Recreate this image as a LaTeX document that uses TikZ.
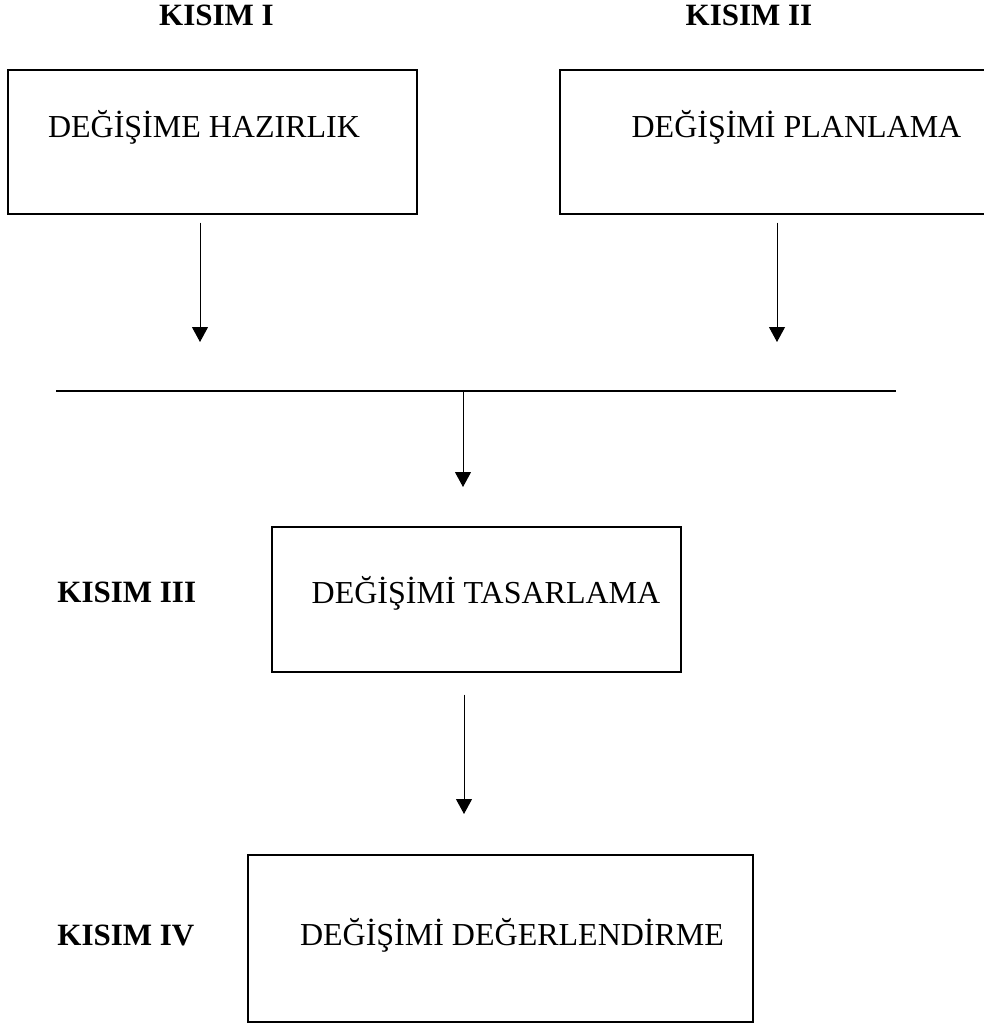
\documentclass[tikz,border=0pt]{standalone}
\usepackage{fontspec}
\setmainfont{Liberation Serif}
\usetikzlibrary{arrows.meta}
\tikzset{%
  box/.style={draw, line width=0.7pt, inner sep=0pt}, % the four part boxes
  txt/.style={anchor=base, inner sep=0pt, font=\fontsize{16pt}{19pt}\selectfont},
  part/.style={anchor=base, inner sep=0pt, font=\fontsize{15.5pt}{18pt}\selectfont\bfseries},
  every edge/.style={%
    draw, -{Triangle[length=7.5pt,width=8pt]}, line width=0.5pt
  }
}

\begin{document}
\begin{tikzpicture}[x=0.5pt,y=-0.5pt]
    \useasboundingbox (0,0) rectangle (984,1024);

    \node[box, minimum width=204.5pt, minimum height=72pt] (hazir) at (212.5,142) {};
    \node[box, minimum width=217pt, minimum height=72pt] (plan) at (777,142) {};
    \node[box, minimum width=204.5pt, minimum height=72.5pt] (tasar) at (476.5,599.5) {};
    \node[box, minimum width=252.5pt, minimum height=83.5pt] (deger) at (500.5,938.5) {};

    \node[txt] (hazirT) at (204,137) {DEĞİŞİME HAZIRLIK};
    \node[txt] (planT) at (796.5,137) {DEĞİŞİMİ PLANLAMA};
    \node[txt] (tasarT) at (486,603) {DEĞİŞİMİ TASARLAMA};
    \node[txt] (degerT) at (512,945) {DEĞİŞİMİ DEĞERLENDİRME};

    \node[part] (k1) at (216.5,25) {KISIM I};
    \node[part] (k2) at (749,25) {KISIM II};
    \node[part, anchor=base west] (k3) at (57,602) {KISIM III};
    \node[part, anchor=base west] (k4) at (57,945) {KISIM IV};

    \coordinate (e1) at (200,342);
    \coordinate (e2) at (777,342);
    \coordinate (barL) at (56,391);
    \coordinate (barR) at (896,391);
    \coordinate (e3) at (463,487);
    \coordinate (e4) at (464,814);

    \draw (hazir.south -| e1) edge[shorten <=4pt] (e1);
    \draw (plan.south -| e2) edge[shorten <=4pt] (e2);
    \draw[line width=1pt] (barL) -- (barR);
    \draw (e3 |- barL) edge (e3);
    \draw (tasar.south -| e4) edge[shorten <=11pt] (e4);
  \end{tikzpicture}
\end{document}
